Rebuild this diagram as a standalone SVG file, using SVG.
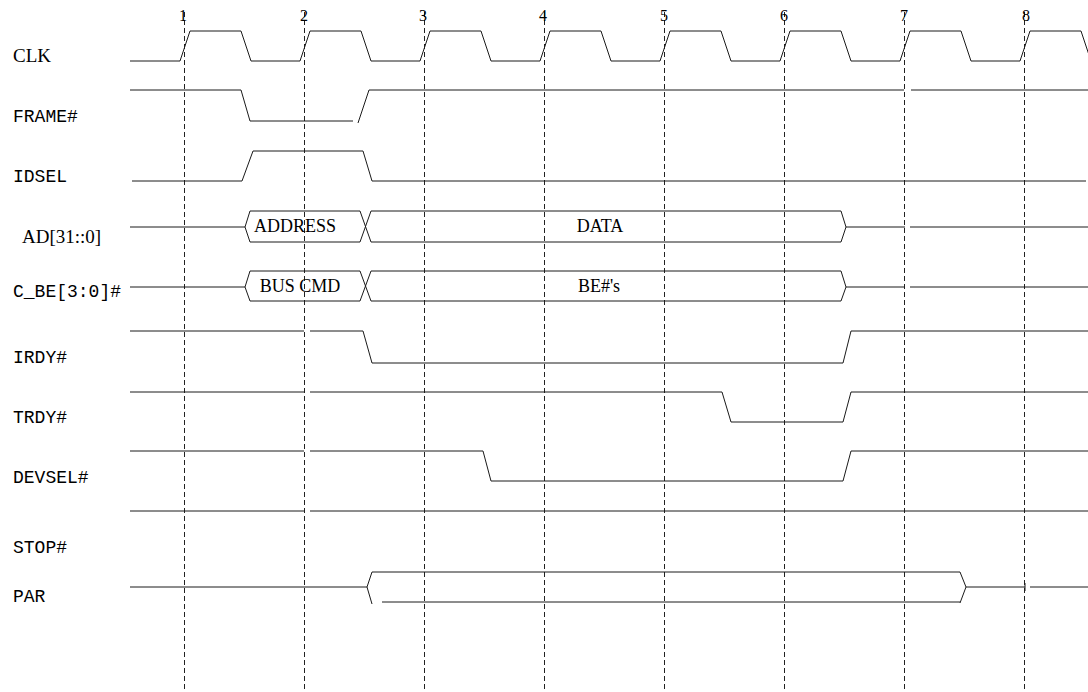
<svg xmlns="http://www.w3.org/2000/svg" width="1088" height="692" viewBox="0 0 1088 692">
<style>
.bg{fill:#fff}
.w{fill:none;stroke:#1a1a1a;stroke-width:1}
.grid{fill:none;stroke:#222;stroke-width:1;stroke-dasharray:5,3}
.ser{font-family:"Liberation Serif","Times New Roman",serif;fill:#000}
.mono{font-family:"Liberation Mono","Courier New",monospace;fill:#000;font-size:18px}
.sig{font-size:19px}
.bus{font-size:18px;text-anchor:middle}
.num{font-size:16px;text-anchor:middle}
</style>
<rect class="bg" x="0" y="0" width="1088" height="692"/>
<g id="clock-markers">
<g class="grid">
<path d="M184.5,12V692M304.5,12V692M424.5,12V692M544.5,12V692M664.5,12V692M784.5,12V692M904.5,12V692M1024.5,12V692"/>
</g>
<g class="ser num">
<text x="183" y="21">1</text>
<text x="304" y="21">2</text>
<text x="423" y="21">3</text>
<text x="543" y="21">4</text>
<text x="664" y="21">5</text>
<text x="784" y="21">6</text>
<text x="904" y="21">7</text>
<text x="1026" y="21">8</text>
</g>
</g>
<g id="sig-clk">
<text class="ser sig" x="13" y="62">CLK</text>
<path class="w" d="M130,61H180L190,31H241L251,61H300L310,31H361L371,61H420L430,31H481L491,61H540L550,31H601L611,61H660L670,31H721L731,61H780L790,31H841L851,61H900L910,31H961L971,61H1020L1030,31H1081L1091,61"/>
</g>
<g id="sig-frame">
<text class="mono" x="13" y="122">FRAME#</text>
<path class="w" d="M130,90H241L250,121H353M358,123L369,90H904M911,90H1088"/>
</g>
<g id="sig-idsel">
<text class="mono" x="13" y="182">IDSEL</text>
<path class="w" d="M132,181H242L253,151H363L372,181H1086"/>
</g>
<g id="sig-ad">
<text class="ser sig" x="22" y="243">AD[31::0]</text>
<path class="w" d="M130,227H245M250,211L245,227L250,242M250,211H360M250,242H360M360,211L371,242M371,211L360,242M371,211H841M371,242H841M841,211L846,227L841,242M846,227H905M910,227H1088"/>
<text class="ser bus" x="295" y="232">ADDRESS</text>
<text class="ser bus" x="600" y="232">DATA</text>
</g>
<g id="sig-cbe">
<text class="mono" x="13" y="297">C_BE[3:0]#</text>
<path class="w" d="M130,287H245M250,271L245,287L250,301M250,271H360M250,301H360M360,271L371,301M371,271L360,301M371,271H841M371,301H841M841,271L846,287L841,301M846,287H905M910,287H1088"/>
<text class="ser bus" x="300" y="292">BUS CMD</text>
<text class="ser bus" x="599" y="292">BE#'s</text>
</g>
<g id="sig-irdy">
<text class="mono" x="13" y="363">IRDY#</text>
<path class="w" d="M130,331H304M310,331H363L372,363H843L851,331H1088"/>
</g>
<g id="sig-trdy">
<text class="mono" x="13" y="423">TRDY#</text>
<path class="w" d="M130,392H304M310,392H722L731,422H843L851,392H1088"/>
</g>
<g id="sig-devsel">
<text class="mono" x="13" y="483">DEVSEL#</text>
<path class="w" d="M130,451H304M310,451H483L491,481H843L851,451H1088"/>
</g>
<g id="sig-stop">
<text class="mono" x="13" y="553">STOP#</text>
<path class="w" d="M130,511H304M310,511H1088"/>
</g>
<g id="sig-par">
<text class="mono" x="13" y="602">PAR</text>
<path class="w" d="M130,587H367M372,572L367,587L372,604M372,572H960M382,602H960M960,572L966,587L960,603M966,587H1025M1025,583V591M1030,587H1088"/>
</g>
</svg>
